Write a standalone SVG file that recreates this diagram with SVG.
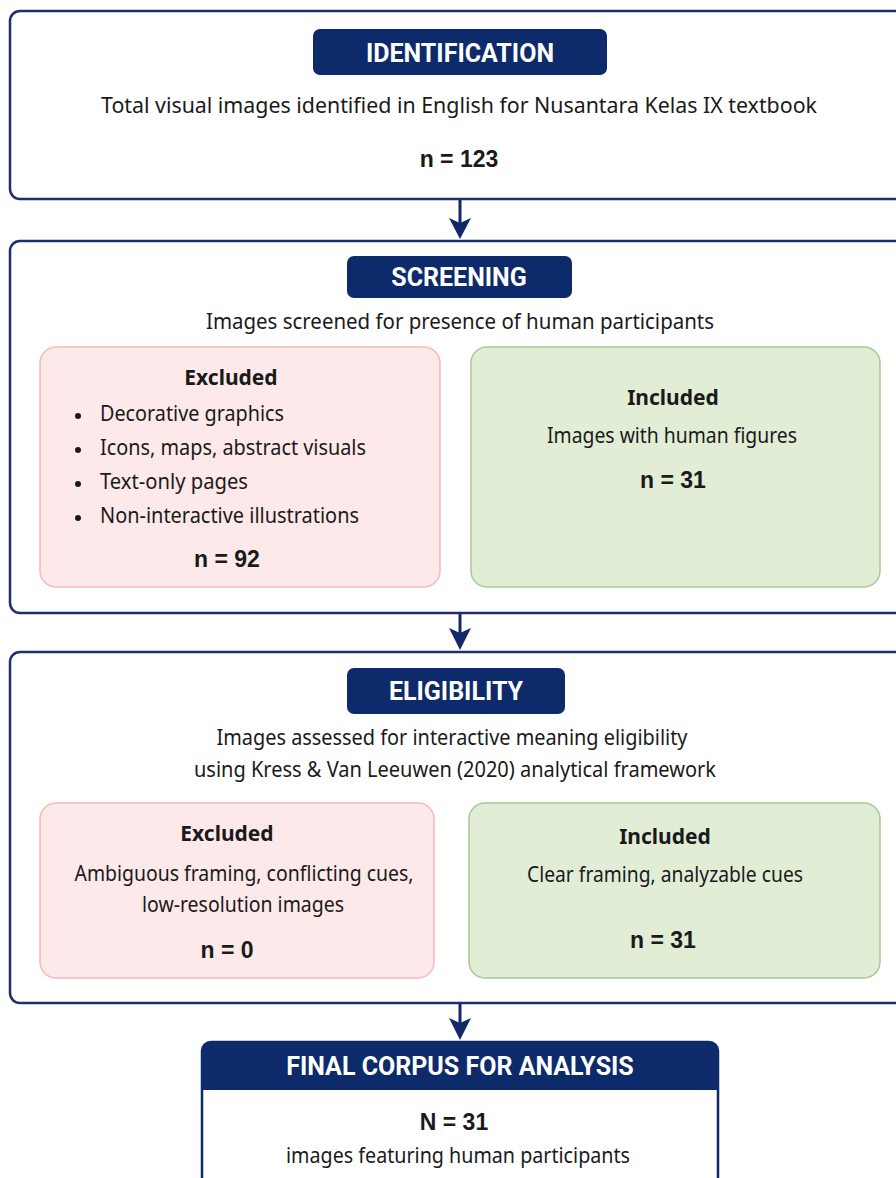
<svg xmlns="http://www.w3.org/2000/svg" width="896" height="1178" viewBox="0 0 896 1178">
<defs>
<style>
.stage{fill:#ffffff;stroke:#1f2f6e;stroke-width:2.5}
.pill{fill:#0d2a6b}
.pt{font-family:Roboto,"Liberation Sans",sans-serif;font-weight:700;fill:#ffffff;text-anchor:middle;font-size:25px}
.t{font-family:"Noto Sans","Open Sans",sans-serif;fill:#1a1a1a;text-anchor:middle;font-size:22px}
.tl{font-family:"Noto Sans","Open Sans",sans-serif;fill:#1a1a1a;font-size:22px}
.b{font-family:"Noto Sans","Open Sans",sans-serif;fill:#1a1a1a;text-anchor:middle;font-weight:700;font-size:21px}
.n{font-family:"Liberation Sans",Arial,sans-serif;fill:#1a1a1a;text-anchor:middle;font-weight:700;font-size:23px}
.exc{fill:#fde9e9;stroke:#f4b9b9;stroke-width:1.5}
.inc{fill:#e2edd6;stroke:#a9c797;stroke-width:1.5}
.conn{stroke:#13286a;stroke-width:3;fill:none}
.head{fill:#13286a}
</style>
</defs>
<rect width="896" height="1178" fill="#ffffff"/>

<g id="identification">
<rect class="stage" x="10" y="11" width="900" height="188" rx="10"/>
<rect class="pill" x="313" y="29" width="294" height="46" rx="7"/>
<text class="pt" x="460" y="62">IDENTIFICATION</text>
<text class="t" x="459" y="113" font-size="23" textLength="716" lengthAdjust="spacingAndGlyphs">Total visual images identified in English for Nusantara Kelas IX textbook</text>
<text class="n" x="459" y="167" font-size="29">n = 123</text>
</g>

<g id="screening">
<rect class="stage" x="10" y="241" width="900" height="372" rx="10"/>
<rect class="pill" x="347" y="256" width="225" height="42" rx="7"/>
<text class="pt" x="459" y="286">SCREENING</text>
<text class="t" x="460" y="329" textLength="508" lengthAdjust="spacingAndGlyphs">Images screened for presence of human participants</text>
</g>

<g id="screening-excluded">
<rect class="exc" x="40" y="347" width="400" height="240" rx="16"/>
<text class="b" x="231" y="385">Excluded</text>
<circle cx="78" cy="416" r="3" fill="#1a1a1a"/>
<text class="tl" x="100" y="421" textLength="184" lengthAdjust="spacingAndGlyphs">Decorative graphics</text>
<circle cx="78" cy="450" r="3" fill="#1a1a1a"/>
<text class="tl" x="100" y="455" textLength="266" lengthAdjust="spacingAndGlyphs">Icons, maps, abstract visuals</text>
<circle cx="78" cy="484" r="3" fill="#1a1a1a"/>
<text class="tl" x="100" y="489" textLength="148" lengthAdjust="spacingAndGlyphs">Text-only pages</text>
<circle cx="78" cy="518" r="3" fill="#1a1a1a"/>
<text class="tl" x="100" y="523" textLength="259" lengthAdjust="spacingAndGlyphs">Non-interactive illustrations</text>
<text class="n" x="227" y="567">n = 92</text>
</g>

<g id="screening-included">
<rect class="inc" x="471" y="347" width="409" height="240" rx="16"/>
<text class="b" x="673" y="405">Included</text>
<text class="t" x="672" y="443" textLength="250" lengthAdjust="spacingAndGlyphs">Images with human figures</text>
<text class="n" x="673" y="488">n = 31</text>
</g>

<g id="eligibility">
<rect class="stage" x="10" y="652" width="900" height="351" rx="10"/>
<rect class="pill" x="347" y="668" width="218" height="46" rx="7"/>
<text class="pt" x="456" y="700">ELIGIBILITY</text>
<text class="t" x="452" y="745" textLength="471" lengthAdjust="spacingAndGlyphs">Images assessed for interactive meaning eligibility</text>
<text class="t" x="455" y="777" textLength="522" lengthAdjust="spacingAndGlyphs">using Kress &amp; Van Leeuwen (2020) analytical framework</text>
</g>

<g id="eligibility-excluded">
<rect class="exc" x="40" y="803" width="394" height="175" rx="16"/>
<text class="b" x="227" y="841">Excluded</text>
<text class="t" x="244" y="881" textLength="339" lengthAdjust="spacingAndGlyphs">Ambiguous framing, conflicting cues,</text>
<text class="t" x="243" y="912" textLength="202" lengthAdjust="spacingAndGlyphs">low-resolution images</text>
<text class="n" x="227" y="958">n = 0</text>
</g>

<g id="eligibility-included">
<rect class="inc" x="469" y="803" width="411" height="175" rx="16"/>
<text class="b" x="665" y="844">Included</text>
<text class="t" x="665" y="882" textLength="276" lengthAdjust="spacingAndGlyphs">Clear framing, analyzable cues</text>
<text class="n" x="663" y="948">n = 31</text>
</g>

<g id="final-corpus">
<rect x="202" y="1042" width="516" height="150" rx="9" fill="#ffffff" stroke="#0d2a6b" stroke-width="2.5"/>
<path d="M202,1090 V1051 Q202,1042 211,1042 H709 Q718,1042 718,1051 V1090 Z" fill="#0d2a6b"/>
<text class="pt" x="460" y="1075" font-size="23.5">FINAL CORPUS FOR ANALYSIS</text>
<text class="n" x="454" y="1130" font-size="33">N = 31</text>
<text class="t" x="458" y="1163" textLength="344" lengthAdjust="spacingAndGlyphs">images featuring human participants</text>
</g>

<g id="connectors">
<line class="conn" x1="460" y1="200" x2="460" y2="224"/>
<polygon class="head" points="449,218 460,223 471,218 460,239"/>
<line class="conn" x1="460" y1="614" x2="460" y2="634"/>
<polygon class="head" points="449,628 460,633 471,628 460,650"/>
<line class="conn" x1="460" y1="1004" x2="460" y2="1024"/>
<polygon class="head" points="449,1018 460,1023 471,1018 460,1040"/>
</g>
</svg>
